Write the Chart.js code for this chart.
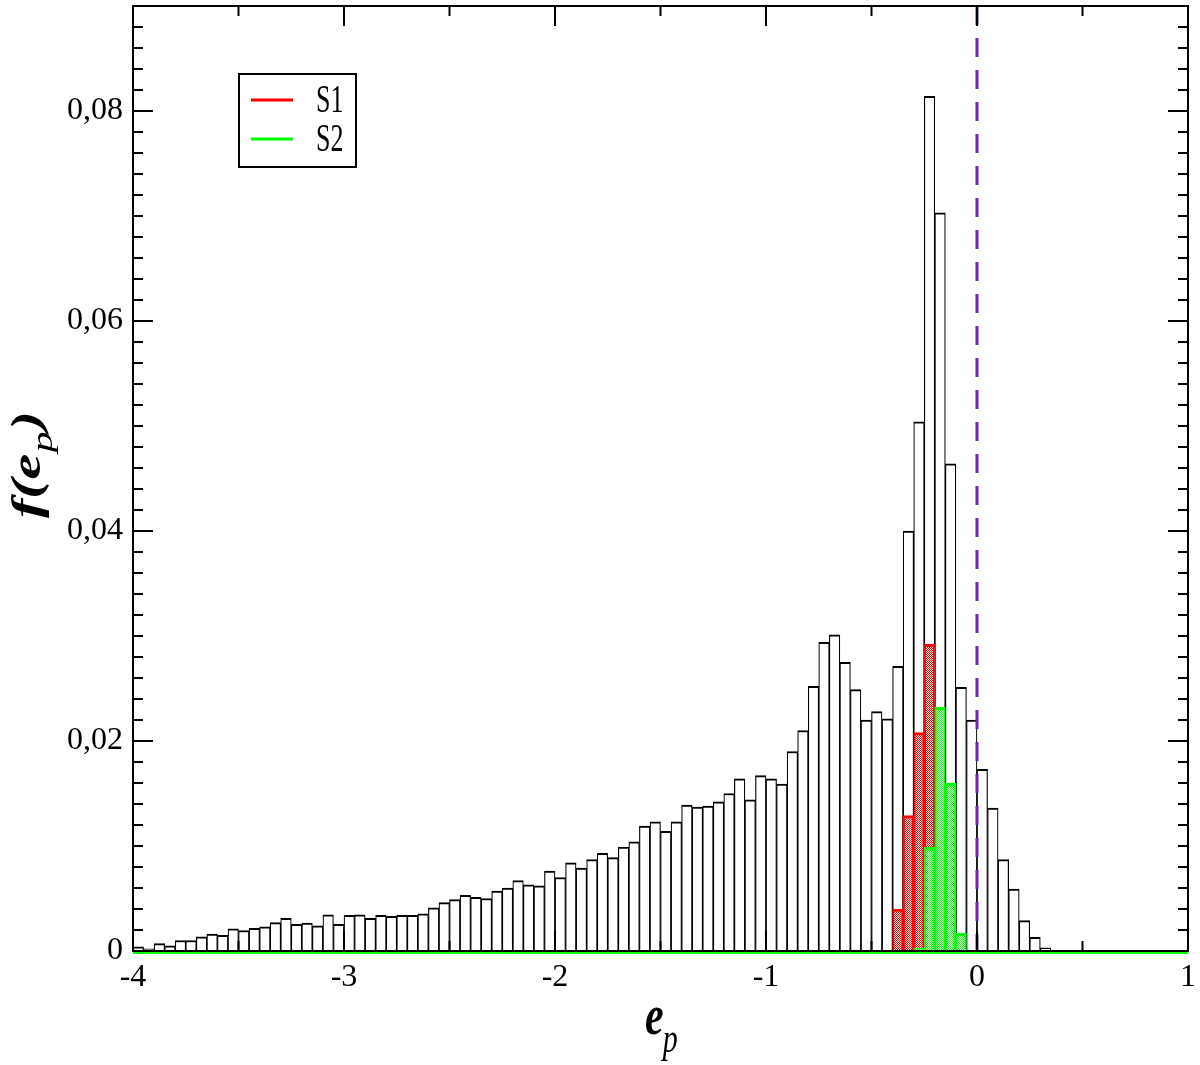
<!DOCTYPE html>
<html>
<head>
<meta charset="utf-8">
<script src="https://cdn.jsdelivr.net/npm/chart.js@4.4.1/dist/chart.umd.min.js"></script>
<style>
  html, body { margin: 0; padding: 0; background: #ffffff; }
  #wrap { width: 1200px; height: 1065px; position: relative; }
</style>
</head>
<body>
<div id="wrap"><canvas id="epChart"></canvas></div>
<script>
// histogram of e_p, bins 0.05 wide from -4 to 1
const binStart = -4;
const binWidth = 0.05;

// all particles (100 bins)
const allValues = [
  0.0004, 0.0002, 0.0007, 0.0005, 0.0010, 0.0010, 0.00135, 0.0016, 0.0015, 0.0021,
  0.00195, 0.00215, 0.0023, 0.0027, 0.0031, 0.00255, 0.00265, 0.0024, 0.00345, 0.00255,
  0.0034, 0.00345, 0.0031, 0.0034, 0.0033, 0.0034, 0.0034, 0.00355, 0.0041, 0.0046,
  0.0049, 0.0053, 0.0051, 0.0050, 0.0057, 0.0060, 0.0067, 0.0063, 0.0062, 0.0076,
  0.0070, 0.0084, 0.0079, 0.0087, 0.0093, 0.0089, 0.0099, 0.0104, 0.0119, 0.0123,
  0.0114, 0.0123, 0.0139, 0.0137, 0.0138, 0.0142, 0.0150, 0.0164, 0.0144, 0.0167,
  0.0164, 0.0159, 0.0190, 0.0210, 0.0252, 0.0294, 0.0301, 0.0275, 0.0249, 0.0220,
  0.0228, 0.0221, 0.0271, 0.0400, 0.0504, 0.0814, 0.0703, 0.0464, 0.0251, 0.0220,
  0.0173, 0.0136, 0.0087, 0.0059, 0.0029, 0.0013, 0.0003, 0, 0, 0,
  0, 0, 0, 0, 0, 0, 0, 0, 0, 0
];

// S1 / S2 subsets (bin index -> value)
const s1Bins   = [72, 73, 74, 75];
const s1Values = [0.0040, 0.0129, 0.0208, 0.0292];
const s2Bins   = [74, 75, 76, 77, 78];
const s2Values = [0.0003, 0.0099, 0.0232, 0.0160, 0.0017];

const seriesLabels = ['S1', 'S2'];
const xTicks = [-4, -3, -2, -1, 0, 1];
const yTicks = [0, 0.02, 0.04, 0.06, 0.08];
const refLineX = 0;

const binCenter = i => binStart + binWidth * (i + 0.5);

const canvas = document.getElementById('epChart');
const ctx0 = canvas.getContext('2d');

// fine checker fill like the grace pattern
function checker(color) {
    const c = document.createElement('canvas');
    c.width = 2; c.height = 2;
    const g = c.getContext('2d');
    g.fillStyle = '#ffffff';
    g.fillRect(0, 0, 2, 2);
    g.fillStyle = color;
    g.fillRect(0, 0, 1, 1);
    g.fillRect(1, 1, 1, 1);
    return ctx0.createPattern(c, 'repeat');
}

const frameTicksPlugin = {
    id: 'frameTicks',
    afterDatasetsDraw(chart) {
        const { ctx, chartArea: { left, right, top, bottom }, scales: { x } } = chart;
        ctx.save();
        // reference line at e_p = 0
        const px = x.getPixelForValue(refLineX);
        ctx.strokeStyle = '#7221bc';
        ctx.lineWidth = 3;
        ctx.setLineDash([19, 13]);
        ctx.beginPath();
        ctx.moveTo(px, top);
        ctx.lineTo(px, bottom);
        ctx.stroke();
        ctx.setLineDash([]);
        // green zero line of S2
        ctx.strokeStyle = '#00ff00';
        ctx.lineWidth = 2;
        ctx.beginPath();
        ctx.moveTo(left, bottom + 2);
        ctx.lineTo(right, bottom + 2);
        ctx.stroke();
        ctx.restore();
    },
    afterDraw(chart) {
        const { ctx, chartArea: { left, right, top, bottom }, scales: { x, y } } = chart;
        ctx.save();
        ctx.strokeStyle = '#000000';
        ctx.lineWidth = 2;
        ctx.strokeRect(left, top, right - left, bottom - top);

        ctx.beginPath();
        for (let k = 0; k <= 45; k++) {
            const py = y.getPixelForValue(k * 0.002);
            const len = k % 10 === 0 ? 20 : 10;
            ctx.moveTo(left, py); ctx.lineTo(left + len, py);
            ctx.moveTo(right, py); ctx.lineTo(right - len, py);
        }
        for (let k = 0; k <= 10; k++) {
            const px = x.getPixelForValue(-4 + k * 0.5);
            const len = k % 2 === 0 ? 20 : 10;
            ctx.moveTo(px, bottom); ctx.lineTo(px, bottom - len);
            ctx.moveTo(px, top); ctx.lineTo(px, top + len);
        }
        ctx.stroke();

        // legend box
        ctx.lineWidth = 2;
        ctx.strokeRect(239, 74, 117, 93);
        const legendRows = [
            { label: chart.data.datasets[1].label, color: '#ff0000', y: 100 },
            { label: chart.data.datasets[2].label, color: '#00ff00', y: 139 }
        ];
        legendRows.forEach(r => {
            ctx.strokeStyle = r.color;
            ctx.lineWidth = 3;
            ctx.beginPath();
            ctx.moveTo(251, r.y);
            ctx.lineTo(293, r.y);
            ctx.stroke();
            ctx.save();
            ctx.translate(316, r.y + 12);
            ctx.scale(1, 1.5);
            ctx.fillStyle = '#000000';
            ctx.font = '26px "Liberation Serif"';
            ctx.textBaseline = 'alphabetic';
            ctx.fillText(r.label, 0, 0);
            ctx.restore();
        });

        // axis titles with subscripts
        ctx.fillStyle = '#000000';
        ctx.textBaseline = 'alphabetic';
        const big = 'bold italic 42px "Liberation Serif"';
        const sub = 'italic 30px "Liberation Serif"';

        ctx.save();
        ctx.translate(40, 518);
        ctx.rotate(-Math.PI / 2);
        ctx.scale(1.38, 1);
        ctx.font = big;
        let cx = 0;
        ctx.fillText('f(e', cx, 0);
        cx += ctx.measureText('f(e').width + 1;
        ctx.font = sub;
        ctx.fillText('p', cx, 12);
        cx += ctx.measureText('p').width + 1;
        ctx.font = big;
        ctx.fillText(')', cx, 0);
        ctx.restore();

        ctx.save();
        ctx.translate(645, 1034);
        ctx.scale(1, 1.38);
        ctx.font = big;
        ctx.fillText('e', 0, 0);
        const ew = ctx.measureText('e').width;
        ctx.font = sub;
        ctx.fillText('p', ew - 1, 13);
        ctx.restore();

        ctx.restore();
    }
};

new Chart(ctx0, {
    type: 'bar',
    data: {
        datasets: [
            {
                label: 'all',
                data: allValues.map((v, i) => ({ x: binCenter(i), y: v })),
                backgroundColor: '#ffffff',
                borderColor: '#000000',
                borderWidth: { top: 2, left: 1.2, right: 1.2, bottom: 0 },
                barPercentage: 1,
                categoryPercentage: 1,
                grouped: false,
                order: 3
            },
            {
                label: seriesLabels[0],
                data: s1Bins.map((b, i) => ({ x: binCenter(b), y: s1Values[i] })),
                backgroundColor: checker('#ff0000'),
                borderColor: '#ff0000',
                borderWidth: { top: 3, left: 2, right: 2, bottom: 0 },
                barPercentage: 1,
                categoryPercentage: 1,
                grouped: false,
                order: 2
            },
            {
                label: seriesLabels[1],
                data: s2Bins.map((b, i) => ({ x: binCenter(b), y: s2Values[i] })),
                backgroundColor: checker('#00ff00'),
                borderColor: '#00ff00',
                borderWidth: { top: 3, left: 2, right: 2, bottom: 0 },
                barPercentage: 1,
                categoryPercentage: 1,
                grouped: false,
                order: 1
            }
        ]
    },
    options: {
        responsive: true,
        maintainAspectRatio: false,
        animation: false,
        devicePixelRatio: 1,
        layout: { padding: { top: 6, right: 12, left: 0, bottom: 0 } },
        plugins: {
            legend: { display: false },
            tooltip: { enabled: false }
        },
        scales: {
            x: {
                type: 'linear',
                min: -4,
                max: 1,
                offset: false,
                grid: { display: false, drawTicks: false },
                border: { display: false },
                afterBuildTicks(scale) { scale.ticks = xTicks.map(v => ({ value: v })); },
                afterFit(scale) {
                    scale.height = 114;
                    scale.paddingLeft = 0;
                    scale.paddingRight = 0;
                },
                ticks: {
                    color: '#000000',
                    padding: 7,
                    maxRotation: 0,
                    font: { family: '"Liberation Serif"', size: 32 },
                    callback: v => String(v)
                }
            },
            y: {
                min: 0,
                max: 0.09,
                grid: { display: false, drawTicks: false },
                border: { display: false },
                afterBuildTicks(scale) { scale.ticks = yTicks.map(v => ({ value: v })); },
                afterFit(scale) {
                    scale.width = 133;
                    scale.paddingTop = 0;
                    scale.paddingBottom = 0;
                },
                ticks: {
                    color: '#000000',
                    padding: 10,
                    font: { family: '"Liberation Serif"', size: 32 },
                    callback: v => v === 0 ? '0' : v.toFixed(2).replace('.', ',')
                }
            }
        }
    },
    plugins: [frameTicksPlugin]
});
</script>
</body>
</html>
